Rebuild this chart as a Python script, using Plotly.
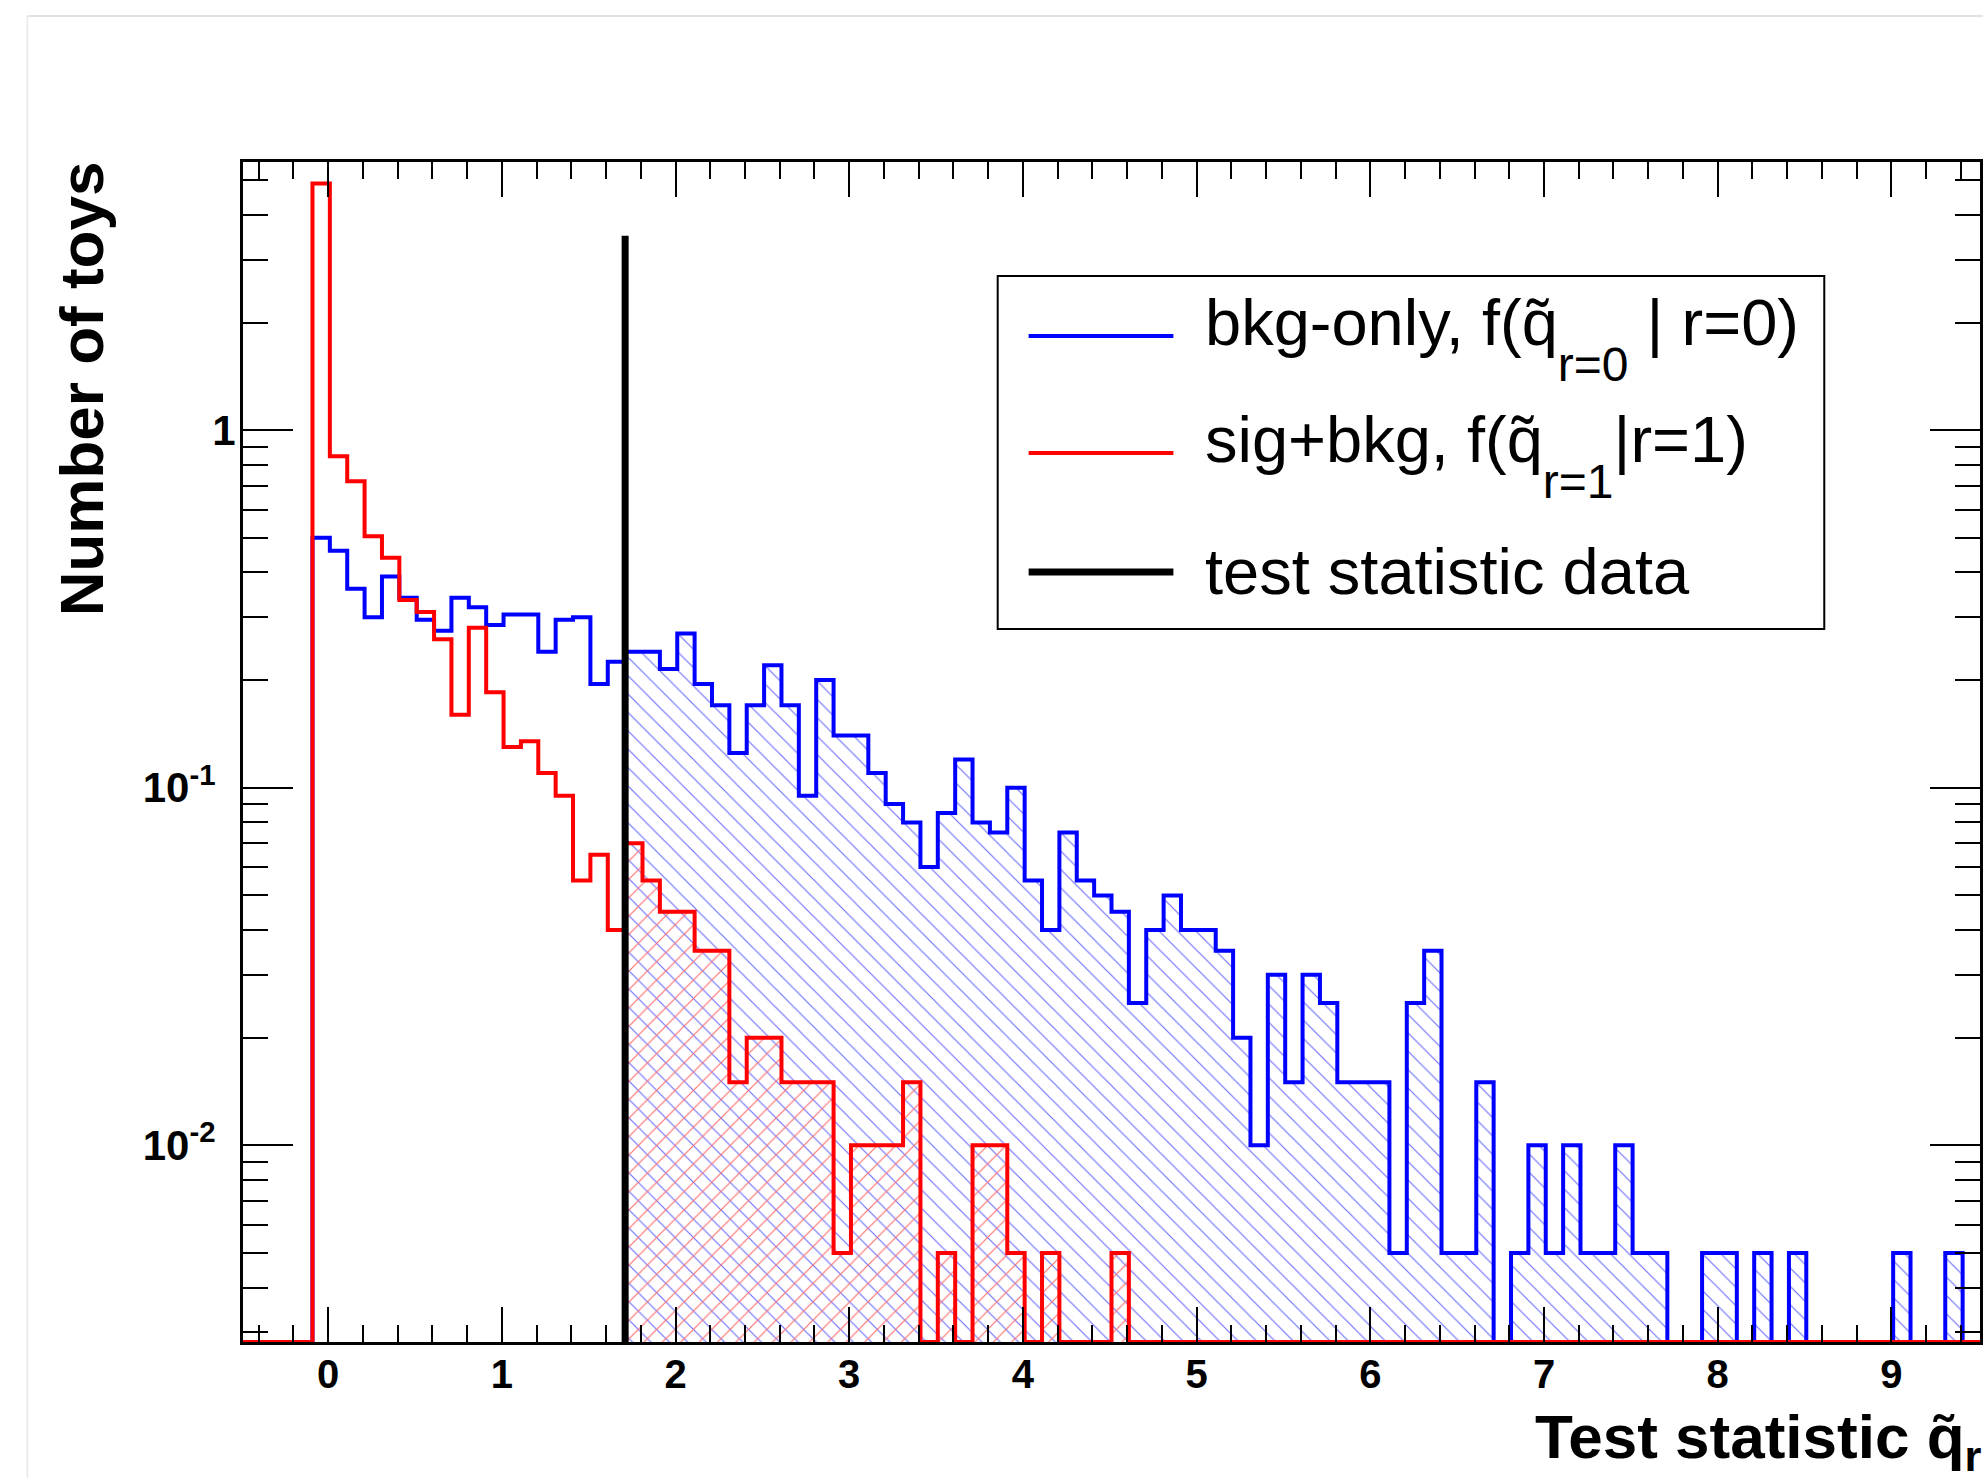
import numpy as np
import plotly.graph_objects as go

# ---------------- data ----------------
HIST_XMIN = -0.49          # first bin low edge
BIN_WIDTH = 0.1
X_RANGE = [-0.49, 9.51]
Y_LOG_RANGE = [-2.55, 0.75]
X_DATA = 1.71              # observed test statistic
DATA_LINE_TOP = 3.5

bkg_only = [0, 0, 0, 0,
    0.5, 0.46, 0.36, 0.30, 0.39, 0.34, 0.295, 0.275, 0.34, 0.32,
    0.285, 0.305, 0.305, 0.24, 0.295, 0.30, 0.195, 0.225,
    0.24, 0.24, 0.215, 0.27, 0.195, 0.17, 0.125, 0.17, 0.22, 0.17,
    0.095, 0.20, 0.14, 0.14, 0.11, 0.09,
    0.08, 0.06, 0.085, 0.12, 0.08, 0.075, 0.10, 0.055, 0.04, 0.075,
    0.055, 0.05, 0.045, 0.025, 0.04, 0.05, 0.04, 0.04, 0.035, 0.02,
    0.01, 0.03, 0.015, 0.03, 0.025, 0.015, 0.015, 0.015, 0.005, 0.025,
    0.035, 0.005, 0.005, 0.015,
    0, 0.005, 0.01, 0.005, 0.01, 0.005, 0.005, 0.01, 0.005, 0.005,
    0, 0, 0.005, 0.005, 0, 0.005, 0, 0.005, 0, 0, 0, 0, 0, 0.005,
    0, 0, 0.005, 0]

sig_bkg = [0, 0, 0, 0,
    4.9, 0.845, 0.72, 0.505, 0.44, 0.335, 0.31, 0.26, 0.16, 0.28,
    0.185, 0.13, 0.135, 0.11, 0.095, 0.055, 0.065, 0.04,
    0.07, 0.055, 0.045, 0.045, 0.035, 0.035, 0.015, 0.02, 0.02, 0.015,
    0.015, 0.015,
    0.005, 0.01, 0.01, 0.01, 0.015, 0, 0.005, 0, 0.01, 0.01, 0.005, 0,
    0.005, 0, 0, 0, 0.005] + [0] * 49

X_TICKS = [0, 1, 2, 3, 4, 5, 6, 7, 8, 9]
Y_TICKVALS = [0.01, 0.1, 1]
Y_TICKTEXT = ["10<sup>-2</sup>\u00a0\u2009", "10<sup>-1</sup>\u00a0\u2009", "1"]

SUB = "<sub><span style='font-size:48px;baseline-shift:-0.45em'>{}</span></sub>"
LEGEND_LABELS = [
    "bkg-only, f(q\u0303" + SUB.format("r=0") + " | r=0)",
    "sig+bkg, f(q\u0303" + SUB.format("r=1") + "|r=1)",
    "test statistic data",
]
X_TITLE = "Test statistic q\u0303<sub>r</sub>"
Y_TITLE = "Number of toys"

# ---------------- geometry ----------------
W_FIG, H_FIG = 1983, 1478
L, R, T, B = 243, 1983, 162, 1342
PW, PH = R - L, B - T


def px(x):
    return (x - L) / PW


def py(y):
    return (B - y) / PH


FONT = "Liberation Sans, Arial, Helvetica, sans-serif"
floor_line = 10 ** Y_LOG_RANGE[0]
floor_fill = 10 ** (Y_LOG_RANGE[0] - 0.3)

nb = len(bkg_only)
edges = HIST_XMIN + BIN_WIDTH * np.arange(nb + 1)


def step_line(vals):
    v = np.array(vals, dtype=float)
    v = np.where(v > 0, v, floor_line)
    return edges, np.append(v, v[-1])


def hatch_poly(vals, xstart):
    v = np.array(vals, dtype=float)
    v = np.where(v > 0, v, floor_fill)
    i0 = int(np.searchsorted(edges, xstart + 1e-9) - 1)
    xs = [xstart, xstart]
    ys = [floor_fill, v[i0]]
    for i in range(i0, nb):
        xs += [edges[i + 1], edges[i + 1]]
        nxt = v[i + 1] if i + 1 < nb else floor_fill
        ys += [v[i], nxt]
    return xs, ys


fig = go.Figure()

# hatched areas beyond the observed value
bx, by = hatch_poly(bkg_only, X_DATA)
fig.add_trace(go.Scatter(x=bx, y=by, mode="lines", fill="toself",
                         line=dict(width=0, color="rgba(0,0,0,0)"),
                         fillcolor="rgba(0,0,0,0)",
                         fillpattern=dict(shape="\\", fgcolor="rgb(110,110,255)",
                                          bgcolor="rgba(0,0,0,0)", size=13,
                                          solidity=0.09, fillmode="replace"),
                         hoverinfo="skip"))
rx, ry = hatch_poly(sig_bkg, X_DATA)
fig.add_trace(go.Scatter(x=rx, y=ry, mode="lines", fill="toself",
                         line=dict(width=0, color="rgba(0,0,0,0)"),
                         fillcolor="rgba(0,0,0,0)",
                         fillpattern=dict(shape="/", fgcolor="rgb(255,110,110)",
                                          bgcolor="rgba(0,0,0,0)", size=13,
                                          solidity=0.09, fillmode="replace"),
                         hoverinfo="skip"))

# histogram outlines
x1, y1 = step_line(bkg_only)
fig.add_trace(go.Scatter(x=x1, y=y1, mode="lines", line_shape="hv",
                         line=dict(color="#0000ff", width=4)))
x2, y2 = step_line(sig_bkg)
fig.add_trace(go.Scatter(x=x2, y=y2, mode="lines", line_shape="hv",
                         line=dict(color="#ff0000", width=4)))

# observed value line
fig.add_trace(go.Scatter(x=[X_DATA, X_DATA], y=[floor_line, DATA_LINE_TOP],
                         mode="lines", line=dict(color="black", width=7)))

# minor ticks for log axis
y_minor = [k * 10.0 ** e for e in range(-3, 1) for k in range(2, 10)]

fig.update_layout(
    width=W_FIG, height=H_FIG,
    margin=dict(l=L, r=W_FIG - R, t=T, b=H_FIG - B),
    paper_bgcolor="white", plot_bgcolor="white",
    showlegend=False,
    font=dict(family=FONT, color="black"),
)

fig.update_xaxes(
    range=X_RANGE, showgrid=False, zeroline=False,
    showline=True, linecolor="black", linewidth=3, mirror="ticks",
    ticks="inside", ticklen=35, tickwidth=2, tickcolor="black",
    tickvals=X_TICKS, ticktext=[str(t) for t in X_TICKS],
    tickfont=dict(size=40, family=FONT, weight="bold"),
    ticklabelstandoff=-5,
    minor=dict(ticks="inside", ticklen=17, tickwidth=2, tickcolor="black",
               tick0=0, dtick=0.2, showgrid=False),
)
fig.update_yaxes(
    type="log", range=Y_LOG_RANGE, showgrid=False, zeroline=False,
    showline=True, linecolor="black", linewidth=3, mirror="ticks",
    ticks="inside", ticklen=50, tickwidth=2, tickcolor="black",
    tickvals=Y_TICKVALS, ticktext=Y_TICKTEXT,
    tickfont=dict(size=42, family=FONT, weight="bold"),
    ticklabelstandoff=-4,
    minor=dict(ticks="inside", ticklen=25, tickwidth=2, tickcolor="black",
               tickmode="array", tickvals=y_minor, showgrid=False),
)

shapes = []
# faint canvas border
shapes.append(dict(type="line", xref="paper", yref="paper",
                   x0=px(27), x1=px(2100), y0=py(16), y1=py(16),
                   line=dict(color="#e2e2e2", width=2)))
shapes.append(dict(type="line", xref="paper", yref="paper",
                   x0=px(27), x1=px(27), y0=py(16), y1=py(1500),
                   line=dict(color="#ececec", width=2)))
# legend box
shapes.append(dict(type="rect", xref="paper", yref="paper",
                   x0=px(999), x1=px(1827), y0=py(276), y1=py(629),
                   line=dict(color="black", width=2), fillcolor="white",
                   layer="above"))
legend_y = [336, 453, 572]
legend_col = ["#0000ff", "#ff0000", "black"]
legend_w = [4, 4, 7]
for yy, cc, ww in zip(legend_y, legend_col, legend_w):
    shapes.append(dict(type="line", xref="paper", yref="paper",
                       x0=px(1030), x1=px(1175), y0=py(yy), y1=py(yy),
                       line=dict(color=cc, width=ww), layer="above"))

annotations = []
text_y = [338, 455, 571]
for yy, txt in zip(text_y, LEGEND_LABELS):
    annotations.append(dict(xref="paper", yref="paper", x=px(1205), y=py(yy),
                            xanchor="left", yanchor="middle", text=txt,
                            showarrow=False,
                            font=dict(size=65, family=FONT, color="black")))
annotations.append(dict(xref="paper", yref="paper", x=px(1535), y=py(1441),
                        xanchor="left", yanchor="middle", text=X_TITLE,
                        showarrow=False,
                        font=dict(size=62, family=FONT, color="black", weight="bold")))
annotations.append(dict(xref="paper", yref="paper", x=px(81), y=py(389),
                        xanchor="center", yanchor="middle", text=Y_TITLE,
                        textangle=-90, showarrow=False,
                        font=dict(size=62, family=FONT, color="black", weight="bold")))

fig.update_layout(shapes=shapes, annotations=annotations)
fig.write_html("out.html")
